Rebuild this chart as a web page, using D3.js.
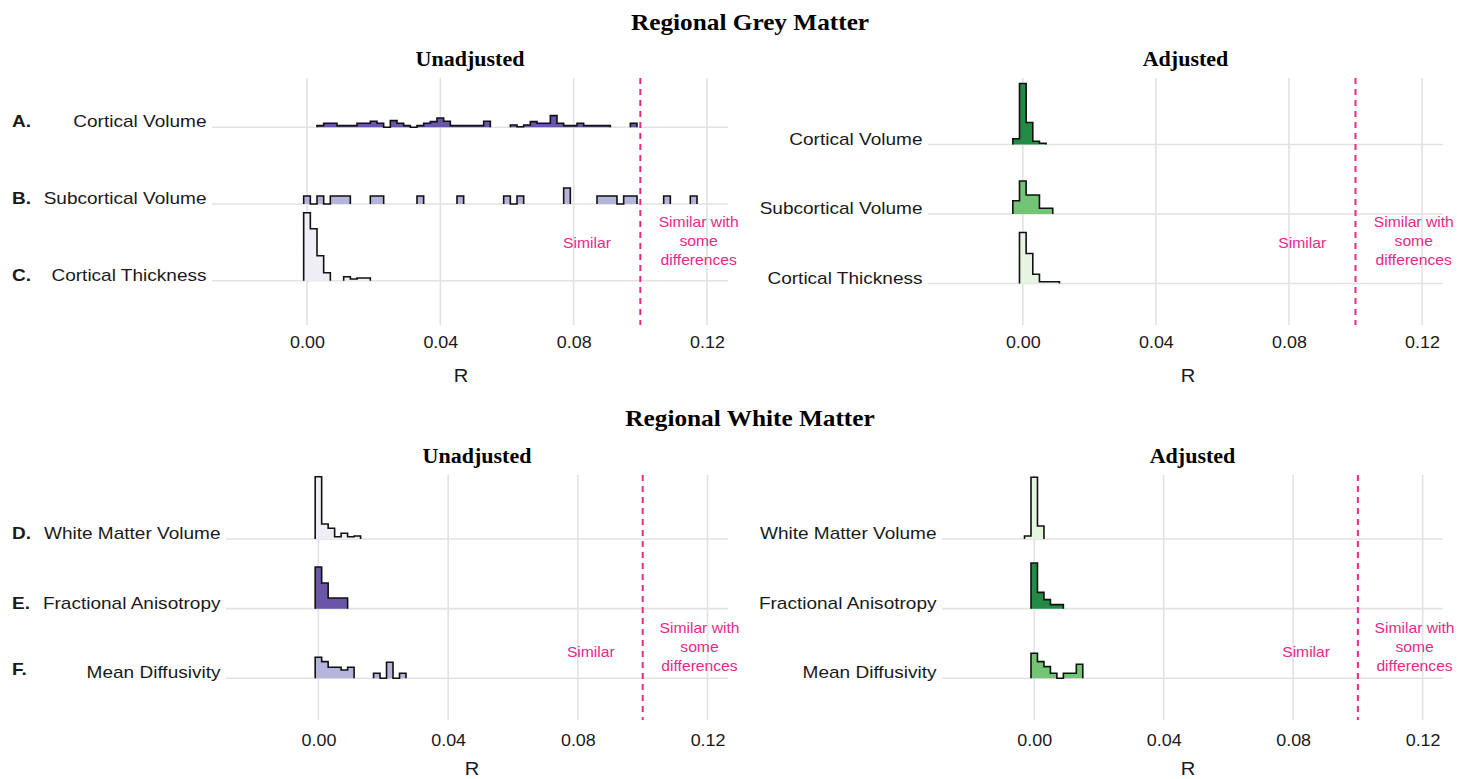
<!DOCTYPE html>
<html lang="en">
<head>
  <meta charset="utf-8">
  <title>Regional Grey and White Matter</title>
  <style>
    body { margin: 0; background: #fff; }
    text { font-family: "Liberation Sans", Arial, sans-serif; fill: #1a1a1a; }
    .title { font-family: "Liberation Serif", "Times New Roman", serif; font-weight: bold; fill: #000; }
    .letter { font-weight: bold; }
    .pink { fill: #e7298a; font-size: 14.5px; }
  </style>
</head>
<body>
  <svg width="1472" height="779"></svg>
  <script src="https://d3js.org/d3.v7.min.js"></script>
  <script>
    const greyRegions = ["Cortical Volume", "Subcortical Volume", "Cortical Thickness"];
    const whiteRegions = ["White Matter Volume", "Fractional Anisotropy", "Mean Diffusivity"];
    const greyLetters = ["A.", "B.", "C."];
    const whiteLetters = ["D.", "E.", "F."];
    const rTicks = [0, 0.04, 0.08, 0.12];
    const rDomain = [-0.0285, 0.1263];
    const cutoff = 0.10;
    const binWidth = 0.002;

    // first bin start per region, then bin heights (density, null = empty bin)
    const greyUnadjStarts = [0.003, -0.001, -0.001];
    const greyUnadjDensity = [
      [1.7, 4, 4, 1.7, 1.7, 1.7, 4, 4, 6, 4, 0, 6.7, 4, 1.7, 0, 1.7, 4, 5.7, 9.3, 6,
       1.7, 1.7, 1.7, 1.7, 1.7, 6, null, null, null, 2.3, 0.5, 2.3, 5.7, 4, 4, 11.7, 4,
       1.7, 1.7, 4, 1.7, 1.7, 1.7, 1.7, null, null, null, 4],
      [8, 0, 8, 0, 8, 8, 8, null, null, null, 8, 8, null, null, null, null, null, 8,
       null, null, null, null, null, 8, null, null, null, null, null, null, 8, 0, 8,
       null, null, null, null, null, null, 16, null, null, null, null, 8, 8, 8, 0, 8, 8,
       null, null, null, null, 8, null, null, null, 8],
      [68, 52, 25, 8, null, null, 4, 1.7, 2.7, 2.7]
    ];
    const greyAdjStarts = [-0.003, -0.003, -0.001];
    const greyAdjDensity = [
      [5.7, 61, 22, 3.3, 1.3],
      [13.3, 33, 19, 19, 5.7, 5.7],
      [51, 30, 9.3, 1.7, 1.7, 1.7]
    ];
    const whiteUnadjStarts = [-0.001, -0.001, -0.001];
    const whiteUnadjDensity = [
      [62.3, 15, 10.7, 2.3, 5.7, 2.3, 3],
      [41.7, 25.7, 10.7, 10.7, 10.7],
      [21, 16.7, 11, 11, 8.3, 11, null, null, null, 5, 0, 16, 0, 5]
    ];
    const whiteAdjStarts = [-0.003, -0.001, -0.001];
    const whiteAdjDensity = [
      [3, 61.7, 13],
      [45.7, 16.3, 9, 4, 4],
      [25, 16.7, 11.7, 5, 0, 5, 5, 14]
    ];

    const purpleGrey = ["#6a55a8", "#b6b4da", "#efedf5"];
    const purpleWhite = ["#efedf5", "#6a55a8", "#b6b4da"];
    const greenGrey = ["#238b45", "#74c476", "#e5f5e0"];
    const greenWhite = ["#e5f5e0", "#238b45", "#74c476"];

    const svg = d3.select("svg");
    const pink = "#e7298a";
    // the original figure was exported slightly wide, so text is stretched a bit
    const sansStretch = 1.12;
    const serifStretch = 1.1;

    // heights are read in the same units as pixels
    const hScale = d3.scaleLinear().domain([0, 100]).range([0, 100]);

    function label(parent, x, y, txt, sx) {
      return parent.append("text")
        .attr("transform", "translate(" + x + "," + y + ") scale(" + sx + ",1)")
        .text(txt);
    }

    function binRuns(start, heights) {
      const out = [];
      let cur = null;
      heights.forEach(function (v, i) {
        if (v === null) { cur = null; return; }
        if (!cur) { cur = []; out.push(cur); }
        cur.push({ x0: start + i * binWidth, x1: start + (i + 1) * binWidth, h: v });
      });
      return out;
    }

    function drawPanel(p) {
      const g = svg.append("g");
      const x = d3.scaleLinear().domain(rDomain).range([p.left, p.right]);
      const y = d3.scalePoint().domain(p.regions).range([p.ridgeTop, p.ridgeBottom]);

      // vertical grid
      g.selectAll(".vgrid").data(rTicks).enter().append("line")
        .attr("x1", d => x(d)).attr("x2", d => x(d))
        .attr("y1", p.top).attr("y2", p.bottom)
        .attr("stroke", "#e2e2e2").attr("stroke-width", 1.6);

      // ridge baselines
      g.selectAll(".hgrid").data(p.regions).enter().append("line")
        .attr("x1", p.left).attr("x2", p.right)
        .attr("y1", d => y(d)).attr("y2", d => y(d))
        .attr("stroke", "#e2e2e2").attr("stroke-width", 1.6);

      // histograms
      p.regions.forEach(function (region, i) {
        const base = y(region);
        const runs = binRuns(p.starts[i], p.density[i]);
        runs.forEach(function (run) {
          const pts = [[run[0].x0, 0]];
          run.forEach(b => { pts.push([b.x0, b.h]); pts.push([b.x1, b.h]); });
          pts.push([run[run.length - 1].x1, 0]);
          g.append("path")
            .attr("d", d3.area().x(d => x(d[0])).y0(base).y1(d => base - hScale(d[1]))(pts))
            .attr("fill", p.colors[i]);
          g.append("path")
            .attr("d", d3.line().x(d => x(d[0])).y(d => base - hScale(d[1]))(pts))
            .attr("fill", "none").attr("stroke", "#111").attr("stroke-width", 1.6)
            .attr("stroke-linejoin", "miter");
        });
      });

      // cutoff line
      g.append("line")
        .attr("x1", x(cutoff)).attr("x2", x(cutoff))
        .attr("y1", p.top).attr("y2", p.bottom)
        .attr("stroke", pink).attr("stroke-width", 2)
        .attr("stroke-dasharray", "6,5");

      // ridge labels
      p.regions.forEach(function (region) {
        label(g, p.left - 5.5, y(region), region, sansStretch)
          .attr("text-anchor", "end").style("font-size", "17px");
      });

      // letters
      (p.letters || []).forEach(function (letter, i) {
        label(g, 12, y(p.regions[i]) + (p.letterDy ? p.letterDy[i] : 0), letter, sansStretch)
          .attr("class", "letter").style("font-size", "17px");
      });

      // x axis labels
      const axis = d3.axisBottom(x).tickValues(rTicks).tickFormat(d3.format(".2f")).tickSize(0).tickPadding(0);
      const ax = g.append("g").attr("transform", "translate(0," + p.tickY + ")").call(axis);
      ax.select(".domain").remove();
      ax.selectAll("text").attr("dy", 0).attr("y", 0)
        .attr("transform", "scale(" + sansStretch + ",1)")
        .style("font-size", "16px").style("font-family", '"Liberation Sans", Arial, sans-serif')
        .attr("fill", "#1a1a1a");

      label(g, p.rX, p.rY, "R", sansStretch)
        .attr("text-anchor", "middle").style("font-size", "18px");

      // subtitle
      label(g, (p.left + p.right) / 2, p.subY, p.subtitle, serifStretch)
        .attr("class", "title").attr("text-anchor", "middle").style("font-size", "20px");

      // annotations
      label(g, x(0.084), p.simY, "Similar", 1.08)
        .attr("class", "pink").attr("text-anchor", "middle");
      ["Similar with", "some", "differences"].forEach(function (line, j) {
        label(g, x(0.1175), p.multiY + j * 18.8, line, 1.08)
          .attr("class", "pink").attr("text-anchor", "middle");
      });
    }

    label(svg, 750, 30, "Regional Grey Matter", serifStretch)
      .attr("class", "title").attr("text-anchor", "middle").style("font-size", "23px");
    label(svg, 750, 426, "Regional White Matter", serifStretch)
      .attr("class", "title").attr("text-anchor", "middle").style("font-size", "23px");

    drawPanel({
      regions: greyRegions, letters: greyLetters, starts: greyUnadjStarts, density: greyUnadjDensity,
      colors: purpleGrey, subtitle: "Unadjusted",
      left: 212, right: 728, top: 78, bottom: 325, ridgeTop: 127.3, ridgeBottom: 280.7,
      tickY: 348, rX: 461, rY: 382, subY: 66, simY: 248, multiY: 227
    });
    drawPanel({
      regions: greyRegions, starts: greyAdjStarts, density: greyAdjDensity,
      colors: greenGrey, subtitle: "Adjusted",
      left: 928, right: 1443, top: 78, bottom: 325, ridgeTop: 144.5, ridgeBottom: 283.5,
      tickY: 348, rX: 1188, rY: 382, subY: 66, simY: 248, multiY: 227
    });
    drawPanel({
      regions: whiteRegions, letters: whiteLetters, letterDy: [0, 0, -3], starts: whiteUnadjStarts, density: whiteUnadjDensity,
      colors: purpleWhite, subtitle: "Unadjusted",
      left: 226, right: 728, top: 475, bottom: 720, ridgeTop: 539, ridgeBottom: 678.3,
      tickY: 746, rX: 472, rY: 775, subY: 463, simY: 657, multiY: 633
    });
    drawPanel({
      regions: whiteRegions, starts: whiteAdjStarts, density: whiteAdjDensity,
      colors: greenWhite, subtitle: "Adjusted",
      left: 942, right: 1443, top: 475, bottom: 720, ridgeTop: 539, ridgeBottom: 678.3,
      tickY: 746, rX: 1188, rY: 775, subY: 463, simY: 657, multiY: 633
    });
  </script>
</body>
</html>
